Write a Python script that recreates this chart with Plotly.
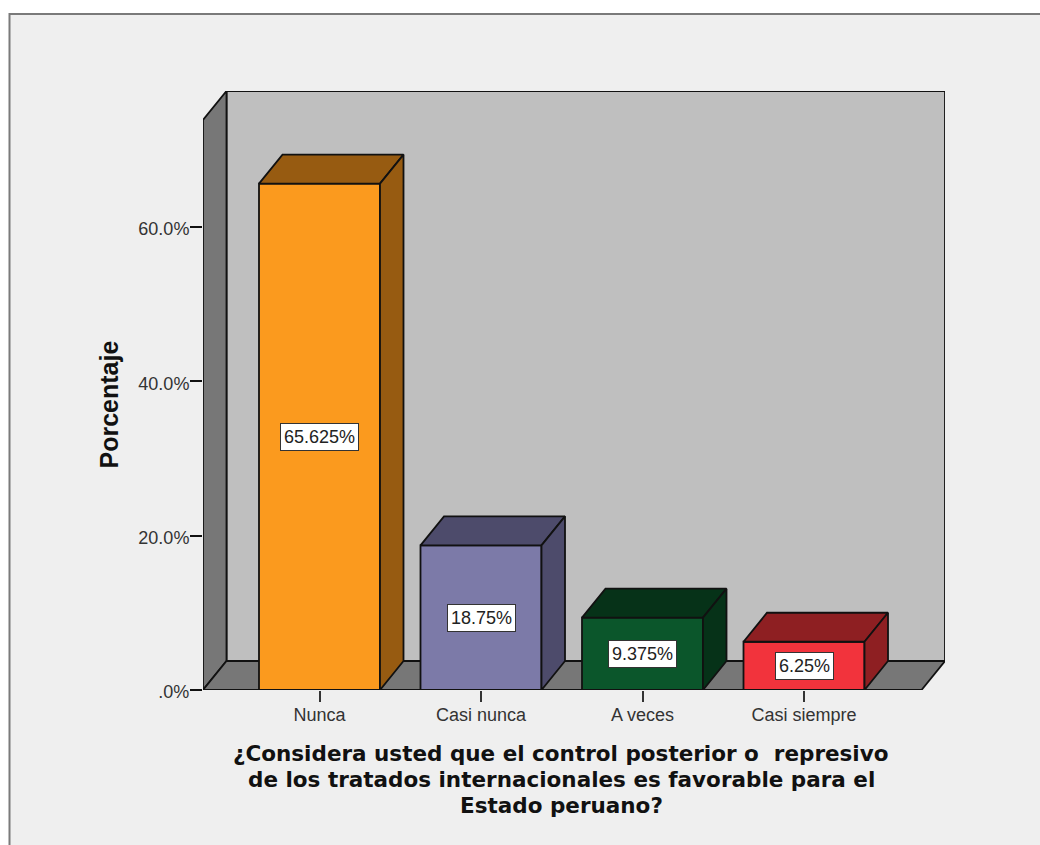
import plotly.graph_objects as go

categories = ["Nunca", "Casi nunca", "A veces", "Casi siempre"]
percentages = [65.625, 18.75, 9.375, 6.25]
value_labels = ["65.625%", "18.75%", "9.375%", "6.25%"]
y_ticks = [0, 20, 40, 60]
y_tick_labels = [".0%", "20.0%", "40.0%", "60.0%"]
front_colors = ["#FB9A1E", "#7C7AA8", "#0B562B", "#F2333C"]
shade_colors = ["#975B11", "#4D4B6B", "#063218", "#8E1F22"]
x_title_lines = ["¿Considera usted que el control posterior o\u00a0 represivo",
                 "de los tratados internacionales es favorable para el",
                 "Estado peruano?"]
y_title = "Porcentaje"

W, H = 1040, 845
PX_L, PX_R, PX_T, PX_B = 203, 945, 91, 690
PX_PER_CAT = 161.5
PX_PER_PCT = 7.717
X0_PX = 319.5
BAR_W = 121 / PX_PER_CAT
DX = 23.5 / PX_PER_CAT
DY = 29 / PX_PER_PCT
x_lo = (PX_L - X0_PX) / PX_PER_CAT
x_hi = (PX_R - X0_PX) / PX_PER_CAT
y_hi = (PX_B - PX_T) / PX_PER_PCT
idx = list(range(len(categories)))
EDGE = dict(color="#111111", width=1.8)

shapes = [
    dict(type="rect", xref="paper", yref="paper", x0=9.5 / W, x1=1.1, y0=-0.1, y1=(H - 14) / H,
         fillcolor="#EFEFEF", line=dict(color="#7A7A7A", width=2), layer="below"),
    dict(type="rect", xref="x", yref="y", x0=x_lo + DX, x1=x_hi, y0=DY, y1=y_hi,
         fillcolor="#BFBFBF", line=EDGE, layer="below"),
    dict(type="path", xref="x", yref="y", layer="below", fillcolor="#777777", line=EDGE,
         path=f"M{x_lo},0 L{x_lo},{y_hi - DY} L{x_lo + DX},{y_hi} L{x_lo + DX},{DY} Z"),
    dict(type="path", xref="x", yref="y", layer="below", fillcolor="#777777", line=EDGE,
         path=f"M{x_lo},0 L{x_lo + DX},{DY} L{x_hi},{DY} L{x_hi - DX},0 Z"),
]

fig = go.Figure()
fig.add_trace(go.Bar(x=idx, y=percentages, width=BAR_W, marker=dict(color=front_colors, line=EDGE),
                     showlegend=False, hoverinfo="skip"))
for i, v, c in zip(idx, percentages, shade_colors):
    l, r = i - BAR_W / 2, i + BAR_W / 2
    fig.add_trace(go.Scatter(x=[l, l + DX, r + DX, r, l], y=[v, v + DY, v + DY, v, v], mode="lines",
                             fill="toself", fillcolor=c, line=EDGE, showlegend=False, hoverinfo="skip"))
    fig.add_trace(go.Scatter(x=[r, r + DX, r + DX, r, r], y=[0, DY, v + DY, v, 0], mode="lines",
                             fill="toself", fillcolor=c, line=EDGE, showlegend=False, hoverinfo="skip"))

annotations = [
    dict(x=i, y=v / 2, text=t, showarrow=False, bgcolor="#FFFFFF", bordercolor="#333333", borderwidth=1,
         borderpad=3, xanchor="center", yanchor="middle",
         font=dict(family="Liberation Sans", size=18, color="#222222"))
    for i, v, t in zip(idx, percentages, value_labels)
]
for line, px_y in zip(x_title_lines, [753, 779, 805]):
    annotations.append(dict(xref="paper", yref="paper", x=561 / W, y=(H - px_y) / H, text=line, showarrow=False,
                            xanchor="center", yanchor="middle",
                            font=dict(family="DejaVu Sans", size=21.5, color="#111111", weight="bold")))
annotations.append(dict(xref="paper", yref="paper", x=108.5 / W, y=(H - 405) / H, text=y_title, showarrow=False,
                        xanchor="center", yanchor="middle", textangle=-90,
                        font=dict(family="Liberation Sans", size=25, color="#111111", weight="bold")))

fig.update_layout(
    template="none",
    width=W, height=H, margin=dict(l=0, r=0, t=0, b=0, pad=0), paper_bgcolor="#FFFFFF",
    plot_bgcolor="rgba(0,0,0,0)",
    shapes=shapes, annotations=annotations, showlegend=False,
    xaxis=dict(domain=[PX_L / W, PX_R / W], range=[x_lo, x_hi], tickmode="array", tickvals=idx, ticktext=categories,
               ticks="outside", ticklen=11, tickwidth=1.5, tickcolor="#333333", showgrid=False, zeroline=False,
               showline=False, automargin=False, ticklabelstandoff=-3,
               tickfont=dict(family="Liberation Sans", size=18, color="#333333")),
    yaxis=dict(domain=[(H - PX_B) / H, (H - PX_T) / H], range=[0, y_hi], tickmode="array", tickvals=y_ticks,
               ticktext=y_tick_labels, ticks="outside", ticklen=12, tickwidth=1.5, tickcolor="#111111",
               showgrid=False, zeroline=False, showline=False, automargin=False,
               ticklabelstandoff=-3, ticklabelshift=2,
               tickfont=dict(family="Liberation Sans", size=18, color="#333333")),
)
fig.write_html("out.html", config={"displayModeBar": False},
               post_script="document.body.style.margin='0';document.body.style.overflow='hidden';")
